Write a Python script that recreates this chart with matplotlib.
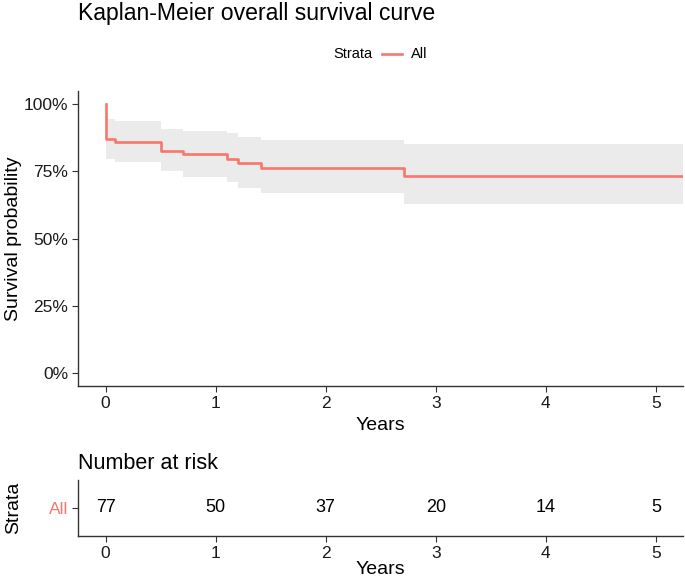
import matplotlib
matplotlib.use("Agg")
import matplotlib.pyplot as plt
from matplotlib.lines import Line2D
from matplotlib.ticker import PercentFormatter

plt.rcParams['font.family'] = ['Liberation Sans', 'DejaVu Sans']

# Datos de la curva
event_times = [0.0, 0.09, 0.50, 0.70, 1.10, 1.20, 1.41, 2.71]
surv = [0.868, 0.857, 0.827, 0.814, 0.795, 0.780, 0.762, 0.731]
upper = [0.943, 0.935, 0.906, 0.901, 0.891, 0.879, 0.867, 0.852]
lower = [0.796, 0.784, 0.750, 0.729, 0.709, 0.688, 0.669, 0.629]
end_time = 5.25

# Tabla de riesgo
risk_times = [0, 1, 2, 3, 4, 5]
risk_counts = [77, 50, 37, 20, 14, 5]
strata = ['All']

line_color = '#F8766D'
band_color = '#EBEBEB'
axis_color = '#333333'

fig = plt.figure(figsize=(6.85, 5.81), dpi=100)
ax = fig.add_axes([0.1139, 0.3348, 0.8839, 0.5094])
ax_r = fig.add_axes([0.1139, 0.0775, 0.8839, 0.0963])


def estilo(a):
    # estilo tipo theme_classic
    for s in ['top', 'right']:
        a.spines[s].set_visible(False)
    for s in ['left', 'bottom']:
        a.spines[s].set_color(axis_color)
        a.spines[s].set_linewidth(1.0)
    a.tick_params(labelsize=12.5, length=4, color=axis_color,
                  labelcolor='#1a1a1a', pad=3)


# banda de confianza
t_band = event_times + [end_time]
ax.fill_between(t_band, upper + [upper[-1]], lower + [lower[-1]],
                step='post', color=band_color, linewidth=0)
# curva escalonada
t_line = [0.0] + event_times + [end_time]
s_line = [1.0] + surv + [surv[-1]]
ax.step(t_line, s_line, where='post', color=line_color, linewidth=1.9)

ax.set_xlim(-0.25, 5.25)
ax.set_ylim(-0.05, 1.05)
ax.set_xticks(risk_times)
ax.set_yticks([0, 0.25, 0.5, 0.75, 1.0])
ax.yaxis.set_major_formatter(PercentFormatter(1.0, decimals=0))
ax.set_xlabel('Years', fontsize=14, labelpad=4)
ax.set_ylabel('Survival probability', fontsize=14)
ax.yaxis.set_label_coords(-0.0926, 0.5)
estilo(ax)

fig.text(0.1139, 0.976, 'Kaplan-Meier overall survival curve', fontsize=16.6,
         ha='left', va='center')

# leyenda arriba: "Strata" + linea + "All"
fig.text(353 / 685, 1 - 54 / 581, 'Strata', fontsize=10.5, ha='center',
         va='center')
fig.add_artist(Line2D([382 / 685, 402 / 685], [1 - 54 / 581, 1 - 54 / 581],
                      color=line_color, linewidth=1.9))
fig.text(411 / 685, 1 - 54 / 581, 'All', fontsize=10.5, ha='left',
         va='center')

# tabla de numero en riesgo
for t, n in zip(risk_times, risk_counts):
    ax_r.text(t, 0, str(n), ha='center', va='center', fontsize=13)
ax_r.set_xlim(-0.25, 5.25)
ax_r.set_ylim(-0.5, 0.5)
ax_r.set_xticks(risk_times)
ax_r.set_yticks([0])
ax_r.set_yticklabels(strata)
ax_r.set_xlabel('Years', fontsize=14, labelpad=0)
ax_r.set_ylabel('Strata', fontsize=14)
ax_r.yaxis.set_label_coords(-0.0926, 0.5)
ax_r.set_title('Number at risk', fontsize=15.5, loc='left', pad=8)
estilo(ax_r)
ax_r.get_yticklabels()[0].set_color(line_color)

fig.savefig('out.png', dpi=100)
